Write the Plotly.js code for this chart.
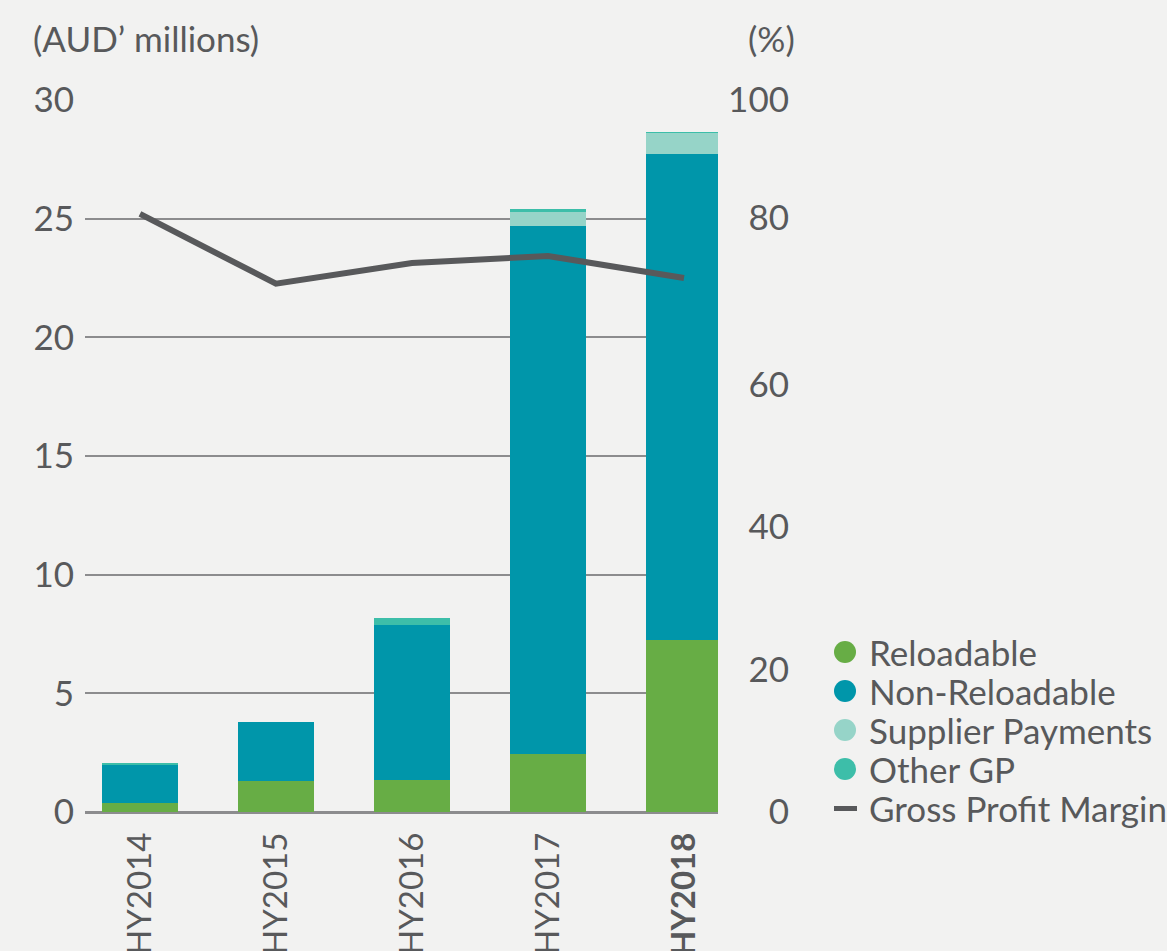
<!DOCTYPE html>
<html>
<head>
<meta charset="utf-8">
<script src="https://cdn.plot.ly/plotly-3.0.1.min.js"></script>
<style>
html,body{margin:0;padding:0;background:#f2f2f1;}
#chart{width:1167px;height:951px;}
</style>
</head>
<body>
<div id="chart"></div>
<script>
// ---- data ----
const categories = ['HY2014', 'HY2015', 'HY2016', 'HY2017', 'HY2018'];
const tickLabels = ['HY2014', 'HY2015', 'HY2016', 'HY2017', '<b>HY2018</b>'];
const reloadable = [0.38, 1.31, 1.35, 2.44, 7.25];
const nonReloadable = [1.60, 2.48, 6.53, 22.25, 20.48];
const supplierPayments = [0, 0, 0, 0.59, 0.88];
const otherGP = [0.08, 0, 0.30, 0.13, 0.04];
const grossProfitMargin = [84.0, 74.2, 77.1, 78.1, 75.0];
const leftTicks = [0, 5, 10, 15, 20, 25, 30];
const rightTickVals = [0, 20, 40, 60, 83.4, 100];
const rightTickText = ['0', '20', '40', '60', '80', '100'];
const legendNames = ['Reloadable', 'Non-Reloadable', 'Supplier Payments', 'Other GP', 'Gross Profit Margin'];

const colors = ['#67ad45', '#0096aa', '#96d4c8', '#3dbea9'];
const lineColor = '#58595b';
const textColor = '#58595b';
const FONT = 'Lato, "Open Sans", sans-serif';
const FS = 35;

// plot area geometry (px) for paper-coordinate conversion of legend/titles
const PL = 85, PR = 795, PT = 100, PB = 812;
const px2x = p => (p - PL) / (PR - PL);
const px2y = p => (PB - p) / (PB - PT);

const barSeries = [reloadable, nonReloadable, supplierPayments, otherGP];
const traces = [];
barSeries.forEach((vals, i) => {
  traces.push({
    type: 'bar', x: categories, y: vals, name: legendNames[i],
    marker: {color: colors[i], line: {width: 0}},
    width: 0.56, showlegend: false
  });
});
traces.push({
  type: 'scatter', mode: 'lines', x: categories, y: grossProfitMargin,
  yaxis: 'y2', name: legendNames[4],
  line: {color: lineColor, width: 6}, showlegend: false
});

// custom legend (circles / short dash + labels)
const shapes = [];
const annotations = [];
const legTop = 652, legStep = 39, legMarkX = 845, legTextX = 867, R = 11;
legendNames.forEach((n, i) => {
  const cy = legTop + i * legStep;
  if (i < 4) {
    shapes.push({type: 'circle', xref: 'paper', yref: 'paper',
      x0: px2x(legMarkX - R), x1: px2x(legMarkX + R),
      y0: px2y(cy + R), y1: px2y(cy - R),
      fillcolor: colors[i], line: {width: 0}});
  } else {
    shapes.push({type: 'rect', xref: 'paper', yref: 'paper',
      x0: px2x(legMarkX - 11), x1: px2x(legMarkX + 12),
      y0: px2y(cy + 3), y1: px2y(cy - 2),
      fillcolor: lineColor, line: {width: 0}});
  }
  annotations.push({text: n, xref: 'paper', yref: 'paper',
    x: px2x(legTextX), y: px2y(cy), xanchor: 'left', yanchor: 'middle',
    showarrow: false, font: {family: FONT, size: FS, color: textColor}});
});
annotations.push({text: '(AUD\u2019 millions)', xref: 'paper', yref: 'paper',
  x: px2x(31), y: px2y(38), xanchor: 'left', yanchor: 'middle', showarrow: false,
  font: {family: FONT, size: FS, color: textColor}});
annotations.push({text: '(%)', xref: 'paper', yref: 'paper',
  x: px2x(746), y: px2y(38), xanchor: 'left', yanchor: 'middle', showarrow: false,
  font: {family: FONT, size: FS, color: textColor}});

const layout = {
  width: 1167, height: 951,
  paper_bgcolor: '#f2f2f1', plot_bgcolor: 'rgba(0,0,0,0)',
  margin: {l: PL, r: 1167 - PR, t: PT, b: 951 - PB},
  font: {family: FONT, size: FS, color: textColor},
  barmode: 'stack',
  showlegend: false,
  xaxis: {
    domain: [0, px2x(718)], range: [-0.404, 4.25], type: 'category',
    tickmode: 'array', tickvals: categories, ticktext: tickLabels,
    tickangle: -90, ticks: '', showgrid: false, zeroline: false,
    showline: false, ticklabelstandoff: 13,
    tickfont: {family: FONT, size: 33, color: textColor}
  },
  yaxis: {
    range: [0, 30], tickmode: 'array', tickvals: leftTicks,
    showgrid: true, gridcolor: '#8c8c8e', gridwidth: 2,
    zeroline: true, zerolinecolor: '#8c8c8e', zerolinewidth: 3,
    ticks: '', showline: false, ticklabelstandoff: 10,
    tickfont: {family: FONT, size: FS, color: textColor}
  },
  yaxis2: {
    overlaying: 'y', anchor: 'free', position: 1, side: 'left',
    range: [0, 100], tickmode: 'array', tickvals: rightTickVals, ticktext: rightTickText,
    showgrid: false, zeroline: false, showline: false, ticks: '',
    ticklabelstandoff: 6,
    tickfont: {family: FONT, size: FS, color: textColor}
  },
  shapes: shapes,
  annotations: annotations
};

Plotly.newPlot('chart', traces, layout, {displayModeBar: false, staticPlot: true});
</script>
</body>
</html>
